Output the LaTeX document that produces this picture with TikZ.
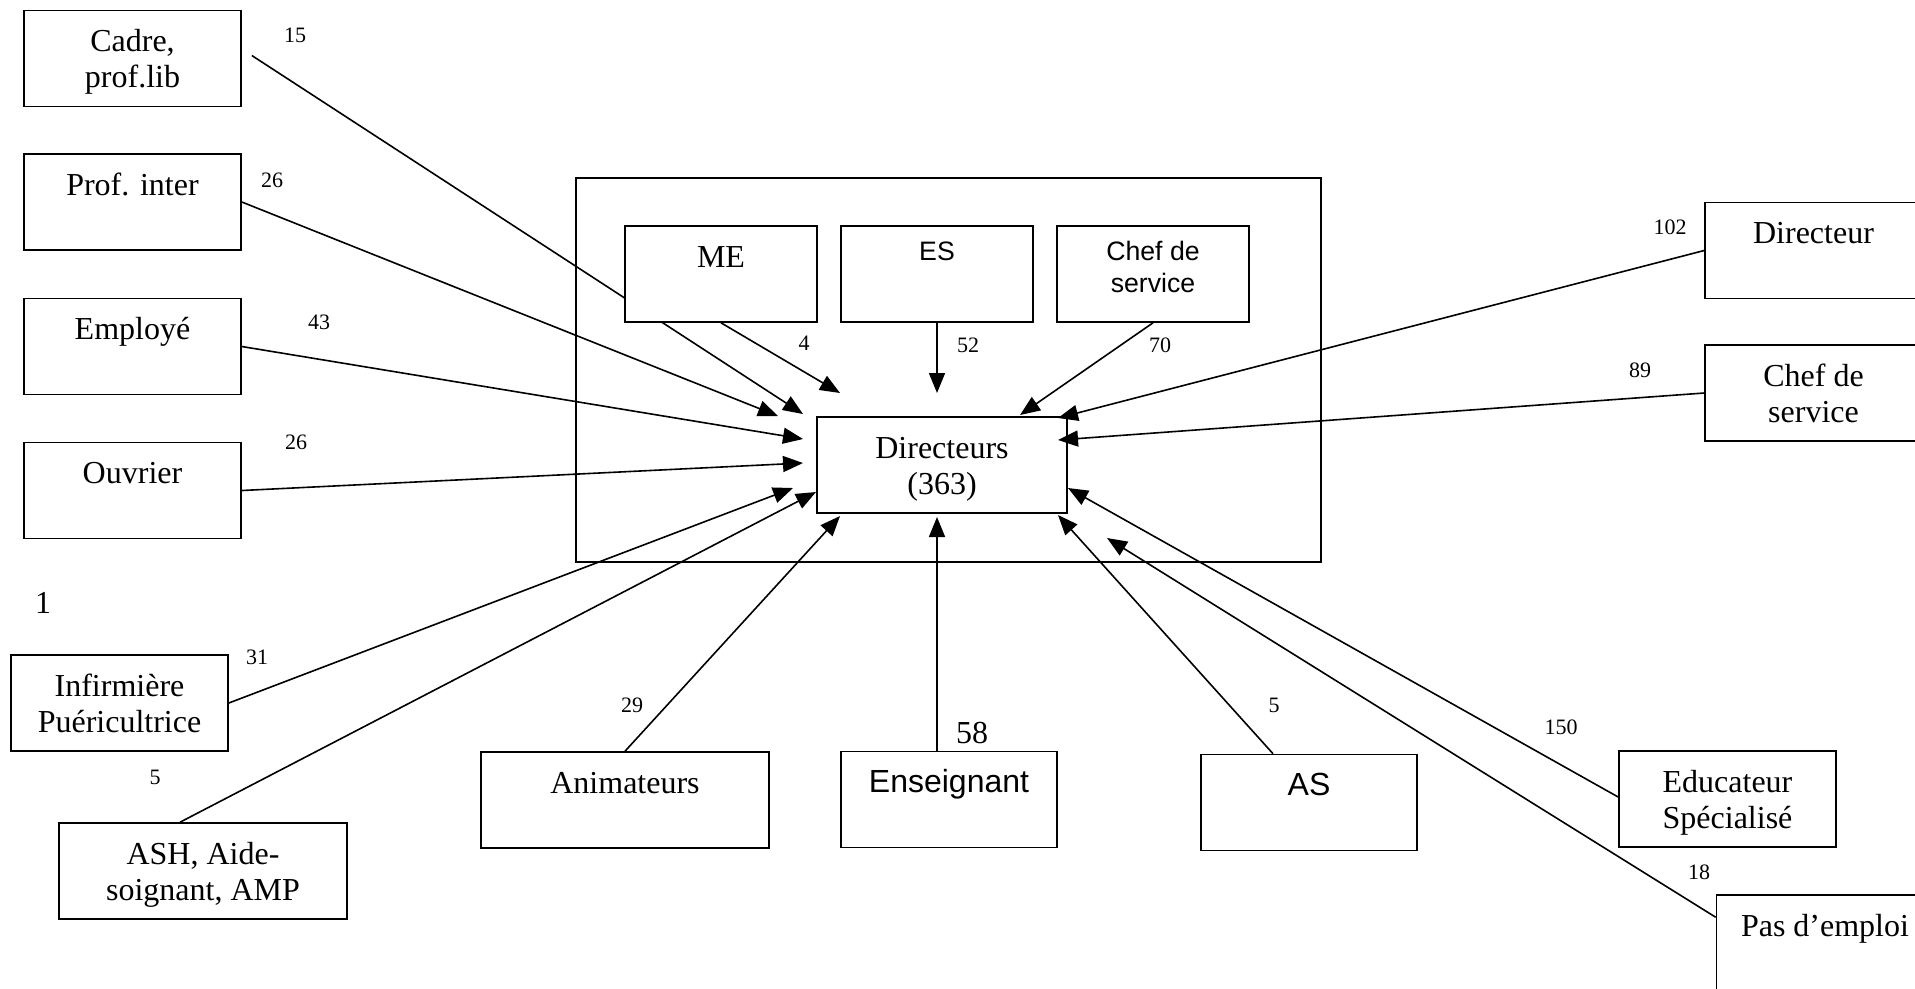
\documentclass[tikz,border=0pt]{standalone}
\usepackage{fontspec}
\setmainfont{Liberation Serif}
\setsansfont{Liberation Sans}
\usetikzlibrary{arrows.meta}
\tikzset{>={Triangle[length=7.5pt,width=6pt]}}
\tikzset{
  boite/.style={draw, fill=white, inner sep=0pt, align=center,
    minimum width=81.4pt, minimum height=36pt,
    text height=15.4pt, text depth=20.6pt,
    font=\fontsize{12}{13.5}\selectfont},
  deuxlignes/.style={text height=28.9pt, text depth=7.1pt},
  boitesf/.style={boite, minimum width=72pt,
    text height=12.75pt, text depth=23.25pt,
    font=\sffamily\fontsize{10}{12}\selectfont},
  nombre/.style={inner sep=0pt, font=\fontsize{8.25}{10}\selectfont},
}

\begin{document}
\begin{tikzpicture}[x=0.375pt, y=-0.375pt, line width=0.6pt]
                \useasboundingbox (0,0) rectangle (1915,988);
                \clip (0,0) rectangle (1915,988);
                \node[boite, fill=none, minimum width=279.4pt, minimum height=144pt, text height=0pt, text depth=0pt] (groupe) at (948.5,370) {};
                \node[boite, deuxlignes] (cadre) at (132.5,58.5) {Cadre,\\prof.lib};
                \node[boite] (prof) at (132.5,202) {Prof. inter};
                \node[boite] (employe) at (132.5,346.5) {Employé};
                \node[boite] (ouvrier) at (132.5,490.5) {Ouvrier};
                \node[boite, deuxlignes] (infirmiere) at (119.5,703) {Infirmière\\Puéricultrice};
                \node[boite, deuxlignes, minimum width=108pt] (ash) at (203,871) {ASH, Aide-\\soignant, AMP};
                \node[boite, deuxlignes, minimum width=93.75pt] (dir) at (942,465) {Directeurs\\(363)};
                \node[boitesf] (es) at (937,274) {ES};
                \node[boitesf, text height=24.75pt, text depth=11.25pt] (chefint) at (1153,274) {Chef de\\service};
                \node[boite, minimum width=108pt] (anim) at (625,800) {Animateurs};
                \node[boite, minimum width=81pt, font=\sffamily\fontsize{12}{13.5}\selectfont] (ens) at (949,799.5) {Enseignant};
                \node[boite, minimum width=81pt, font=\sffamily\fontsize{12}{13.5}\selectfont] (as) at (1309,802.5) {AS};
                \node[boite, deuxlignes] (educ) at (1727.5,799) {Educateur\\Spécialisé};
                \node[boite] (pas) at (1825,943) {Pas d’emploi};
                \node[boite] (directeur) at (1813.5,250.5) {Directeur};
                \node[boite, deuxlignes] (chefdroit) at (1813.5,393) {Chef de\\service};
                \coordinate (tcadre) at (803,414);
                \coordinate (tprof) at (778,416);
                \coordinate (temploye) at (803,439);
                \coordinate (touvrier) at (803,463);
                \coordinate (tinfirmiere) at (793,488);
                \coordinate (tash) at (816,492);
                \coordinate (tanim) at (840,516);
                \coordinate (tens) at (937,517);
                \coordinate (tas) at (1058,515);
                \coordinate (teduc) at (1068,488);
                \coordinate (tpas) at (1107,538);
                \coordinate (tchefdroit) at (1058,440);
                \coordinate (tdirecteur) at (1058,418);
                \coordinate (tme) at (840,393);
                \coordinate (tes) at (937,393);
                \coordinate (tchefint) at (1020,415);
                \draw[->] (cadre.east) ++(10,-3) -- (tcadre);
                \node[boite, minimum width=72pt] (me) at (721,274) {ME};
                \draw[->] (prof.east) -- (tprof);
                \draw[->] (employe.east) -- (temploye);
                \draw[->] (ouvrier.east) -- (touvrier);
                \draw[->] (infirmiere.east) -- (tinfirmiere);
                \draw[->] (ash.north) ++(-23,0) -- (tash);
                \draw[->] (anim.north) -- (tanim);
                \draw[->] (ens.north -| es) -- (tens);
                \draw[->] (as.north) ++(-36,0) -- (tas);
                \draw[->] (educ.west) ++(0,-2) -- (teduc);
                \draw[->] (pas.north west) ++(0,23) -- (tpas);
                \draw[->] (chefdroit.west) -- (tchefdroit);
                \draw[->] (directeur.west) -- (tdirecteur);
                \draw[->] (me.south) -- (tme);
                \draw[->] (es.south) -- (tes);
                \draw[->] (chefint.south) -- (tchefint);
                \node[nombre] (n15) at (295,35) {15};
                \node[nombre] (n26a) at (272,180) {26};
                \node[nombre] (n43) at (319,322) {43};
                \node[nombre] (n26b) at (296,442) {26};
                \node[inner sep=0pt, font=\fontsize{12}{14}\selectfont] (n1) at (43,603) {1};
                \node[nombre] (n31) at (257,657) {31};
                \node[nombre] (n5a) at (155,777) {5};
                \node[nombre] (n4) at (804,343) {4};
                \node[nombre] (n52) at (968,345) {52};
                \node[nombre] (n70) at (1160,345) {70};
                \node[nombre] (n102) at (1670,227) {102};
                \node[nombre] (n89) at (1640,370) {89};
                \node[nombre] (n29) at (632,705) {29};
                \node[inner sep=0pt, font=\fontsize{12}{14}\selectfont] (n58) at (972,733) {58};
                \node[nombre] (n5b) at (1274,705) {5};
                \node[nombre] (n150) at (1561,727) {150};
                \node[nombre] (n18) at (1699,872) {18};
            \end{tikzpicture}
\end{document}
